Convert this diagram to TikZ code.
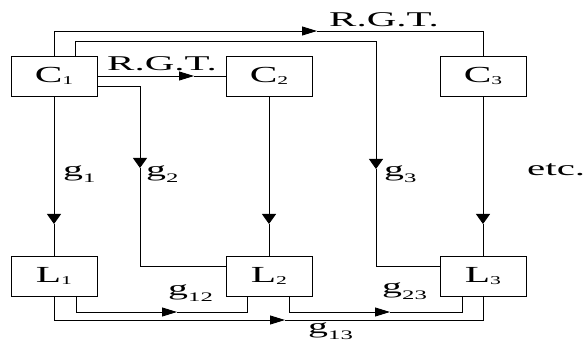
\documentclass[tikz,border=0pt]{standalone}
\usepackage{fontspec}
\setmainfont{Liberation Serif}
\usetikzlibrary{arrows.meta}
\newcommand{\boxlab}[2]{\scalebox{1.8}[1]{#1\raisebox{-1.5pt}{\fontsize{12}{12}\selectfont #2}}}
\newcommand{\glab}[1]{\scalebox{1.9}[1]{g\raisebox{-6pt}{\fontsize{13}{13}\selectfont #1}}}
\newcommand{\stx}[1]{\scalebox{1.95}[1]{#1}}
\begin{document}
\begin{tikzpicture}[x=1pt,y=-1pt,
  ln/.style={line width=0.9pt},
  harr/.style={ln,-{Triangle[length=15pt,width=9pt]}},
  varr/.style={ln,-{Triangle[length=10pt,width=14pt]}},
  blk/.style={draw,line width=0.9pt,minimum width=86pt,minimum height=40pt,inner sep=0pt,font=\fontsize{23}{25}\selectfont},
  lab/.style={inner sep=0pt,anchor=base west,font=\fontsize{21}{24}\selectfont}]
\useasboundingbox (0,0) rectangle (584,344);
% boxes
\node[blk] (C1) at (54,76) {\boxlab{C}{1}};
\node[blk] (C2) at (269,76) {\boxlab{C}{2}};
\node[blk] (C3) at (483,76) {\boxlab{C}{3}};
\node[blk] (L1) at (54,276) {\boxlab{L}{1}};
\node[blk] (L2) at (269,276) {\boxlab{L}{2}};
\node[blk] (L3) at (483,276) {\boxlab{L}{3}};
% labels
\node[lab] (rgt1) at (329,27) {\stx{R.G.T.}};
\node[lab] (rgt2) at (107,71) {\stx{R.G.T.}};
\node[lab] (g1) at (63,177) {\glab{1}};
\node[lab] (g2) at (146,177) {\glab{2}};
\node[lab] (g3) at (384,177) {\glab{3}};
\node[lab] (etc) at (527,176) {\stx{etc.}};
\node[lab] (g12) at (168,296) {\glab{12}};
\node[lab] (g23) at (382,294) {\glab{23}};
\node[lab] (g13) at (308,334) {\glab{13}};
% coordinates
\coordinate (oa) at (302,31);
\coordinate (ob) at (317,31);
\coordinate (i0) at (75,56);
\coordinate (it) at (376,41);
\coordinate (ia) at (376,159);
\coordinate (ib) at (376,169);
\coordinate (L3w) at (440,266);
\coordinate (c1e) at (97,86);
\coordinate (ja) at (140,158);
\coordinate (jb) at (140,168);
\coordinate (L2w) at (226,266);
\coordinate (ra) at (179,76);
\coordinate (rb) at (194,76);
\coordinate (va1) at (54,214);
\coordinate (vb1) at (54,224);
\coordinate (va2) at (269,214);
\coordinate (vb2) at (269,224);
\coordinate (va3) at (483,214);
\coordinate (vb3) at (483,224);
\coordinate (l1i) at (76,296);
\coordinate (pa) at (162,312);
\coordinate (pb) at (177,312);
\coordinate (l2i) at (247,296);
\coordinate (qa) at (270,320);
\coordinate (qb) at (285,320);
\coordinate (l2o) at (289,296);
\coordinate (sa) at (375,312);
\coordinate (sb) at (390,312);
\coordinate (l3i) at (462,296);
% top outer R.G.T.
\draw[ln] (C1.north) |- (oa);
\draw[harr] (oa) -- (ob);
\draw[ln] (ob) -| (C3.north);
% top inner g3
\draw[ln] (i0) |- (it) -- (ia);
\draw[varr] (ia) -- (ib);
\draw[ln] (ib) |- (L3w);
% g2
\draw[ln] (c1e) -| (ja);
\draw[varr] (ja) -- (jb);
\draw[ln] (jb) |- (L2w);
% C1 -> C2
\draw[ln] (C1.east) -- (ra);
\draw[harr] (ra) -- (rb);
\draw[ln] (rb) -- (C2.west);
% verticals
\draw[ln] (C1.south) -- (va1);
\draw[varr] (va1) -- (vb1);
\draw[ln] (vb1) -- (L1.north);
\draw[ln] (C2.south) -- (va2);
\draw[varr] (va2) -- (vb2);
\draw[ln] (vb2) -- (L2.north);
\draw[ln] (C3.south) -- (va3);
\draw[varr] (va3) -- (vb3);
\draw[ln] (vb3) -- (L3.north);
% bottom
\draw[ln] (l1i) |- (pa);
\draw[harr] (pa) -- (pb);
\draw[ln] (pb) -| (l2i);
\draw[ln] (L1.south) |- (qa);
\draw[harr] (qa) -- (qb);
\draw[ln] (qb) -| (L3.south);
\draw[ln] (l2o) |- (sa);
\draw[harr] (sa) -- (sb);
\draw[ln] (sb) -| (l3i);
\end{tikzpicture}
\end{document}
